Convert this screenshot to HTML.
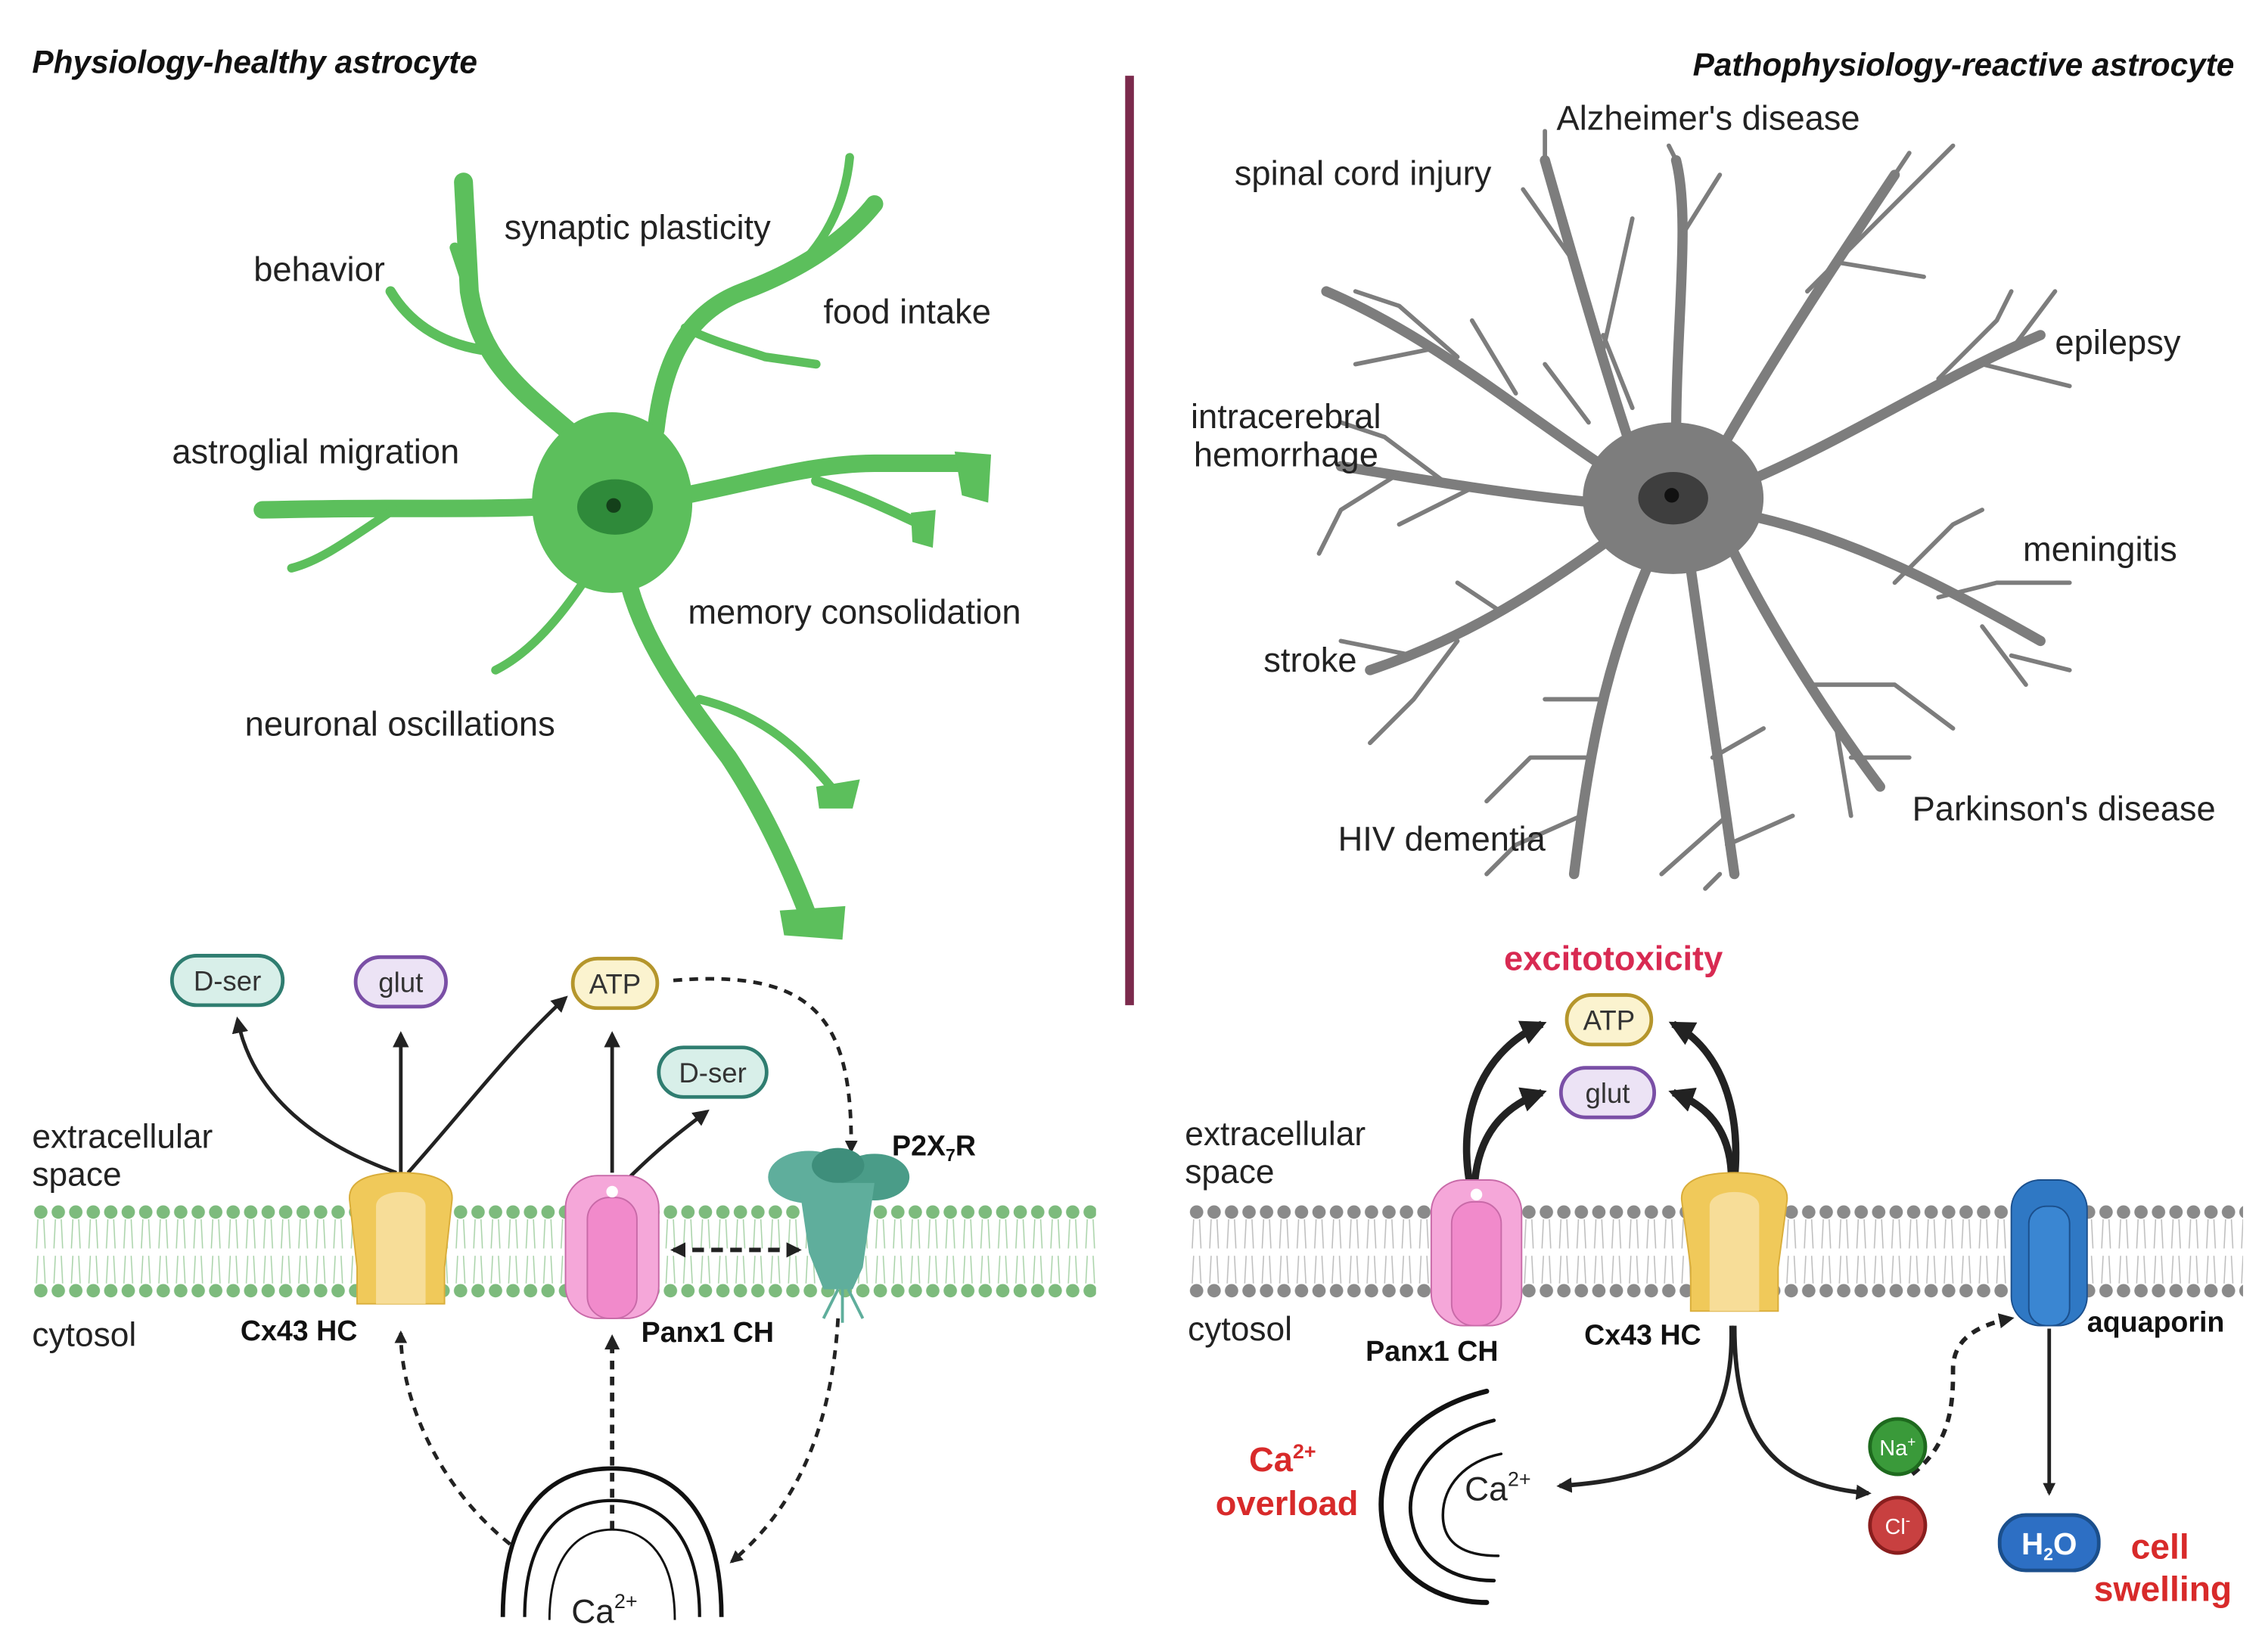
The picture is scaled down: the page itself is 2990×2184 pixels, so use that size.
<!DOCTYPE html>
<html><head><meta charset="utf-8"><style>
html,body{margin:0;padding:0;background:#fff}
svg{display:block}
text{font-family:"Liberation Sans",sans-serif}
</style></head><body>
<svg width="2990" height="2184" viewBox="0 0 1552 1134" preserveAspectRatio="none" xmlns="http://www.w3.org/2000/svg">
<defs>
<marker id="ah" viewBox="0 0 10 10" refX="8" refY="5" markerWidth="4.5" markerHeight="4.5" orient="auto-start-reverse"><path d="M0,0 L10,5 L0,10 z" fill="#222"/></marker>
<marker id="ahb" viewBox="0 0 10 10" refX="8" refY="5" markerWidth="3.5" markerHeight="3.5" orient="auto-start-reverse"><path d="M0,0 L10,5 L0,10 z" fill="#222"/></marker>
<pattern id="memG" x="22" y="0" width="12" height="1134" patternUnits="userSpaceOnUse">
<circle cx="6" cy="832" r="4.6" fill="#7dbb7d"/><circle cx="6" cy="886" r="4.6" fill="#7dbb7d"/>
<path d="M4,837 L3,857 M8,837 L9,857 M4,862 L3,881 M8,862 L9,881" stroke="#a9d3a9" stroke-width="0.8"/>
</pattern>
<pattern id="memR" x="815" y="0" width="12" height="1134" patternUnits="userSpaceOnUse">
<circle cx="6" cy="832" r="4.6" fill="#8a8a8a"/><circle cx="6" cy="886" r="4.6" fill="#8a8a8a"/>
<path d="M4,837 L3,857 M8,837 L9,857 M4,862 L3,881 M8,862 L9,881" stroke="#bdbdbd" stroke-width="0.8"/>
</pattern>
</defs>

<!-- titles -->
<text x="22" y="50" font-size="22" font-weight="bold" font-style="italic" fill="#111">Physiology-healthy astrocyte</text>
<text x="1533" y="52" font-size="22" font-weight="bold" font-style="italic" fill="#111" text-anchor="end">Pathophysiology-reactive astrocyte</text>
<rect x="772" y="52" width="6" height="638" fill="#7b2a4c"/>

<!-- green astrocyte -->
<g stroke="#5cbf5c" fill="none" stroke-linecap="round" stroke-linejoin="round">
<path d="M395,300 C360,270 330,250 322,200 L318,125" stroke-width="13"/>
<path d="M322,200 L312,170 M330,240 C300,235 280,220 268,200" stroke-width="7"/>
<path d="M450,295 C455,250 470,215 510,200 C550,185 580,165 600,140" stroke-width="12"/>
<path d="M540,190 C565,170 580,140 583,108" stroke-width="6"/>
<path d="M470,225 C490,235 510,240 525,245 L560,250" stroke-width="6"/>
<path d="M470,340 C520,330 560,318 600,318 L665,318" stroke-width="12"/>
<path d="M560,330 C590,340 610,350 632,360" stroke-width="7"/>
<path d="M370,348 C320,350 270,348 180,350" stroke-width="12"/>
<path d="M270,350 C240,370 220,385 200,390" stroke-width="6"/>
<path d="M430,395 C440,440 470,480 500,520 C520,550 540,590 555,630" stroke-width="12"/>
<path d="M480,480 C520,490 545,510 570,540" stroke-width="6"/>
<path d="M400,400 C380,430 360,450 340,460" stroke-width="6"/>
</g>
<path d="M655,310 L680,312 L678,345 L660,340 Z" fill="#5cbf5c"/>
<path d="M625,352 L642,350 L640,376 L626,372 Z" fill="#5cbf5c"/>
<path d="M535,625 L580,622 L578,645 L538,642 Z" fill="#5cbf5c"/>
<path d="M560,540 L590,535 L585,555 L562,555 Z" fill="#5cbf5c"/>
<ellipse cx="420" cy="345" rx="55" ry="62" fill="#5cbf5c"/>
<ellipse cx="422" cy="348" rx="26" ry="19" fill="#2f8a3a"/>
<circle cx="421" cy="347" r="5" fill="#14401a"/>

<g font-size="23.5" fill="#222">
<text x="346" y="164">synaptic plasticity</text>
<text x="174" y="193">behavior</text>
<text x="565" y="222">food intake</text>
<text x="118" y="318">astroglial migration</text>
<text x="472" y="428">memory consolidation</text>
<text x="168" y="505">neuronal oscillations</text>
</g>

<!-- grey astrocyte -->
<g stroke="#7d7d7d" fill="none" stroke-linecap="round" stroke-linejoin="round">
<g stroke-width="7">
<path d="M1120,310 C1100,250 1080,180 1060,110"/>
<path d="M1150,300 C1150,220 1160,150 1150,110"/>
<path d="M1180,310 C1220,240 1260,180 1300,120"/>
<path d="M1200,330 C1270,300 1330,260 1400,230"/>
<path d="M1205,355 C1270,370 1330,400 1400,440"/>
<path d="M1190,380 C1220,440 1260,500 1290,540"/>
<path d="M1160,390 C1170,460 1180,530 1190,600"/>
<path d="M1130,390 C1100,460 1090,520 1080,600"/>
<path d="M1105,370 C1050,410 1000,440 940,460"/>
<path d="M1095,345 C1040,340 980,330 920,320"/>
<path d="M1100,320 C1040,280 980,230 910,200"/>
</g>
<g stroke-width="3">
<path d="M1080,180 L1045,130 M1100,240 L1120,150 M1060,110 L1060,90 M1155,160 L1180,120 M1150,110 L1145,100"/>
<path d="M1240,200 L1290,150 L1340,100 M1260,180 L1320,190 M1280,150 L1310,105"/>
<path d="M1330,260 L1370,220 L1380,200 M1360,250 L1420,265 M1380,240 L1410,200"/>
<path d="M1300,400 L1340,360 L1360,350 M1330,410 L1370,400 L1420,400 M1360,430 L1390,470 M1380,450 L1420,460"/>
<path d="M1240,470 L1300,470 L1340,500 M1270,520 L1310,520 M1260,500 L1270,560"/>
<path d="M1175,520 L1210,500 M1185,580 L1230,560 M1185,560 L1140,600 M1180,600 L1170,610"/>
<path d="M1090,520 L1050,520 L1020,550 M1085,560 L1040,580 L1020,600 M1100,480 L1060,480"/>
<path d="M1000,440 L970,480 L940,510 M970,450 L920,440 M1030,420 L1000,400"/>
<path d="M990,330 L950,300 L920,290 M960,325 L920,350 L905,380 M1010,335 L960,360"/>
<path d="M1000,245 L960,210 L930,200 M980,240 L930,250 M1040,270 L1010,220"/>
<path d="M1120,280 L1100,230 M1090,290 L1060,250"/>
</g>
</g>
<ellipse cx="1148" cy="342" rx="62" ry="52" fill="#7d7d7d"/>
<ellipse cx="1148" cy="342" rx="24" ry="18" fill="#3e3e3e"/>
<circle cx="1147" cy="340" r="5" fill="#111"/>

<g font-size="23.5" fill="#222">
<text x="1068" y="89">Alzheimer's disease</text>
<text x="847" y="127">spinal cord injury</text>
<text x="1410" y="243">epilepsy</text>
<text x="817" y="294">intracerebral</text>
<text x="819" y="320">hemorrhage</text>
<text x="1388" y="385">meningitis</text>
<text x="867" y="461">stroke</text>
<text x="1312" y="563">Parkinson's disease</text>
<text x="918" y="584">HIV dementia</text>
</g>

<!-- membranes -->
<rect x="22" y="825" width="730" height="68" fill="url(#memG)"/>
<rect x="815" y="825" width="724" height="68" fill="url(#memR)"/>

<g font-size="23" fill="#222">
<text x="22" y="788">extracellular</text>
<text x="22" y="814">space</text>
<text x="22" y="924">cytosol</text>
<text x="813" y="786">extracellular</text>
<text x="813" y="812">space</text>
<text x="815" y="920">cytosol</text>
</g>

<!-- left arrows -->
<g fill="none" stroke="#222" stroke-width="2.5">
<path d="M272,805 C230,790 175,760 163,700" marker-end="url(#ah)"/>
<path d="M275,805 L275,710" marker-end="url(#ah)"/>
<path d="M280,805 C320,760 350,720 388,685" marker-end="url(#ah)"/>
<path d="M420,805 L420,710" marker-end="url(#ah)"/>
<path d="M430,810 C450,790 465,778 485,763" marker-end="url(#ah)"/>
<path d="M462,673 C560,665 585,700 584,790" stroke-dasharray="6,5" marker-end="url(#ahb)"/>
<path d="M462,858 L548,858" stroke-dasharray="8,5" stroke-width="3" marker-start="url(#ahb)" marker-end="url(#ahb)"/>
<path d="M350,1060 C300,1020 275,960 275,915" stroke-dasharray="6,5" marker-end="url(#ahb)"/>
<path d="M420,1050 L420,918" stroke-dasharray="6,5" stroke-width="3" marker-end="url(#ahb)"/>
<path d="M575,905 C570,990 540,1040 502,1072" stroke-dasharray="6,5" marker-end="url(#ahb)"/>
</g>
<!-- pills left -->
<g stroke-width="2.5">
<rect x="118" y="656" width="76" height="34" rx="17" fill="#d8efe9" stroke="#2f7d70"/>
<rect x="244" y="657" width="62" height="34" rx="17" fill="#ece3f5" stroke="#7a4fa6"/>
<rect x="393" y="658" width="58" height="34" rx="17" fill="#fbf3cf" stroke="#b5962c"/>
<rect x="452" y="719" width="74" height="34" rx="17" fill="#d8efe9" stroke="#2f7d70"/>
</g>
<g font-size="19" fill="#333" text-anchor="middle">
<text x="156" y="680">D-ser</text><text x="275" y="681">glut</text><text x="422" y="682">ATP</text><text x="489" y="743">D-ser</text>
</g>
<!-- Cx43 left -->
<path d="M240,825 C238,812 250,805 275,805 C300,805 312,812 310,825 L305,870 L305,895 L245,895 L245,870 Z" fill="#f0c95a" stroke="#d9ad3a"/>
<path d="M258,828 C258,815 292,815 292,828 L292,895 L258,895 Z" fill="#f7dd98"/>
<!-- Panx1 left -->
<rect x="388" y="807" width="64" height="98" rx="22" fill="#f5a7d9" stroke="#c86aa8"/>
<rect x="403" y="822" width="34" height="83" rx="15" fill="#f18acb" stroke="#c86aa8"/>
<circle cx="420" cy="818" r="4" fill="#fff"/>
<!-- P2X7R -->
<g fill="#5fae9c">
<ellipse cx="555" cy="808" rx="28" ry="18"/>
<ellipse cx="600" cy="808" rx="24" ry="16" fill="#4a9c88"/>
<ellipse cx="575" cy="800" rx="18" ry="12" fill="#3e8e7b"/>
<path d="M548,812 L600,812 L592,870 L585,885 L565,885 L555,860 Z"/>
</g>
<path d="M575,885 L565,905 M578,885 L578,908 M582,885 L592,905" stroke="#5fae9c" stroke-width="2"/>
<g font-size="19.5" font-weight="bold" fill="#111">
<text x="165" y="920">Cx43 HC</text><text x="440" y="921">Panx1 CH</text>
<text x="612" y="793">P2X<tspan font-size="12" dy="4">7</tspan><tspan dy="-4">R</tspan></text>
</g>
<!-- Ca2+ left arcs -->
<g fill="none" stroke="#111">
<path d="M345,1110 C345,1040 375,1008 420,1008 C465,1008 495,1040 495,1110" stroke-width="3"/>
<path d="M360,1110 C360,1055 385,1030 420,1030 C455,1030 480,1055 480,1110" stroke-width="2.2"/>
<path d="M377,1112 C377,1070 395,1050 420,1050 C445,1050 463,1070 463,1112" stroke-width="1.5"/>
</g>
<text x="392" y="1114" font-size="23" fill="#222">Ca<tspan font-size="14" dy="-10">2+</tspan></text>

<!-- right side -->
<text x="1107" y="666" font-size="23.5" font-weight="bold" fill="#d82a52" text-anchor="middle">excitotoxicity</text>
<g fill="none" stroke="#222" stroke-width="5">
<path d="M1008,810 C1000,760 1020,720 1058,703" marker-end="url(#ahb)"/>
<path d="M1012,810 C1015,780 1030,760 1058,750" marker-end="url(#ahb)"/>
<path d="M1190,810 C1195,760 1180,720 1148,703" marker-end="url(#ahb)"/>
<path d="M1188,810 C1188,780 1175,760 1148,750" marker-end="url(#ahb)"/>
</g>
<g stroke-width="2.5">
<rect x="1075" y="683" width="58" height="34" rx="17" fill="#fbf3cf" stroke="#b5962c"/>
<rect x="1071" y="733" width="64" height="34" rx="17" fill="#ece3f5" stroke="#7a4fa6"/>
</g>
<g font-size="19" fill="#333" text-anchor="middle"><text x="1104" y="707">ATP</text><text x="1103" y="757">glut</text></g>
<!-- Panx1 right -->
<rect x="982" y="810" width="62" height="100" rx="22" fill="#f5a7d9" stroke="#c86aa8"/>
<rect x="996" y="825" width="34" height="85" rx="15" fill="#f18acb" stroke="#c86aa8"/>
<circle cx="1013" cy="820" r="4" fill="#fff"/>
<!-- Cx43 right -->
<path d="M1154,825 C1152,812 1165,805 1190,805 C1215,805 1228,812 1226,825 L1220,870 L1220,900 L1160,900 L1160,870 Z" fill="#f0c95a" stroke="#d9ad3a"/>
<path d="M1173,828 C1173,815 1207,815 1207,828 L1207,900 L1173,900 Z" fill="#f7dd98"/>
<!-- aquaporin -->
<rect x="1380" y="810" width="52" height="100" rx="20" fill="#2f78c4" stroke="#1b4f8c"/>
<rect x="1392" y="828" width="28" height="82" rx="12" fill="#3a86d2" stroke="#1b4f8c"/>
<g font-size="19.5" font-weight="bold" fill="#111">
<text x="937" y="934">Panx1 CH</text><text x="1087" y="923">Cx43 HC</text><text x="1432" y="914">aquaporin</text>
</g>
<!-- Ca overload -->
<g fill="none" stroke="#111" stroke-linecap="round">
<path d="M1020,955 C960,970 945,1010 948,1040 C952,1080 985,1100 1020,1100" stroke-width="3.5"/>
<path d="M1025,975 C985,985 965,1015 968,1040 C972,1070 995,1085 1025,1085" stroke-width="2.5"/>
<path d="M1030,998 C1005,1003 990,1020 990,1040 C990,1060 1005,1068 1028,1068" stroke-width="1.8"/>
</g>
<text x="1005" y="1030" font-size="23" fill="#222">Ca<tspan font-size="14" dy="-10">2+</tspan></text>
<text x="880" y="1010" font-size="23.5" font-weight="bold" fill="#d82a2a" text-anchor="middle">Ca<tspan font-size="14" dy="-9">2+</tspan></text>
<text x="883" y="1040" font-size="23.5" font-weight="bold" fill="#d82a2a" text-anchor="middle">overload</text>
<g fill="none" stroke="#222" stroke-width="3">
<path d="M1188,910 C1190,990 1150,1015 1070,1020" marker-end="url(#ahb)"/>
<path d="M1190,910 C1190,990 1220,1020 1282,1025" marker-end="url(#ahb)"/>
<path d="M1312,1012 C1340,990 1340,960 1340,940 C1340,920 1355,910 1380,905" stroke-dasharray="6,5" marker-end="url(#ahb)"/>
<path d="M1406,912 L1406,1025" stroke-width="2.5" marker-end="url(#ahb)"/>
</g>
<circle cx="1302" cy="993" r="19" fill="#3a9a3a" stroke="#1e6a1e" stroke-width="2.5"/>
<circle cx="1302" cy="1047" r="19" fill="#c84040" stroke="#8a1e1e" stroke-width="2.5"/>
<text x="1302" y="999" font-size="15" fill="#fff" text-anchor="middle">Na<tspan font-size="10" dy="-6">+</tspan></text>
<text x="1302" y="1053" font-size="15" fill="#fff" text-anchor="middle">Cl<tspan font-size="10" dy="-6">-</tspan></text>
<rect x="1372" y="1040" width="68" height="38" rx="18" fill="#2d6fc4" stroke="#1b4f8c" stroke-width="2.5"/>
<text x="1406" y="1067" font-size="21" font-weight="bold" fill="#fff" text-anchor="middle">H<tspan font-size="12" dy="4">2</tspan><tspan dy="-4">O</tspan></text>
<text x="1482" y="1070" font-size="24" font-weight="bold" fill="#d82a2a" text-anchor="middle">cell</text>
<text x="1484" y="1099" font-size="24" font-weight="bold" fill="#d82a2a" text-anchor="middle">swelling</text>
</svg>
</body></html>
